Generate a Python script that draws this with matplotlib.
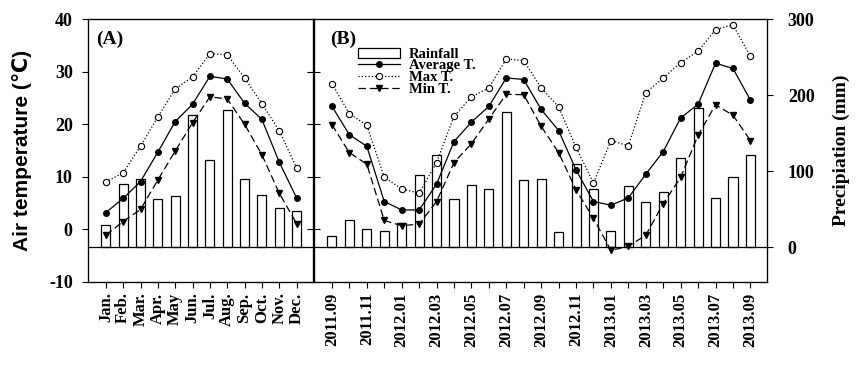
import matplotlib
matplotlib.use('Agg')
import matplotlib.pyplot as plt
import numpy as np

plt.rcParams['axes.unicode_minus'] = False

# ---- data ----
months_a = ['Jan.', 'Feb.', 'Mar.', 'Apr.', 'May', 'Jun.', 'Jul.', 'Aug.', 'Sep.', 'Oct.', 'Nov.', 'Dec.']
rain_a = [29, 83, 90, 64, 68, 174, 115, 181, 90, 69, 52, 48]
tavg_a = [3.2, 5.9, 9.1, 14.7, 20.5, 23.8, 29.1, 28.6, 24.0, 20.9, 12.8, 6.0]
tmax_a = [9.0, 10.8, 15.8, 21.4, 26.7, 29.0, 33.4, 33.2, 28.8, 23.9, 18.8, 11.7]
tmin_a = [-1.1, 1.5, 3.8, 9.4, 14.9, 20.3, 25.2, 24.8, 20.0, 14.2, 6.9, 1.1]

months_b = ['2011.09', '2011.10', '2011.11', '2011.12', '2012.01', '2012.02', '2012.03',
            '2012.04', '2012.05', '2012.06', '2012.07', '2012.08', '2012.09', '2012.10',
            '2012.11', '2012.12', '2013.01', '2013.02', '2013.03', '2013.04', '2013.05',
            '2013.06', '2013.07', '2013.08', '2013.09']
rain_b = [14.5, 35.5, 23.7, 21.5, 32, 94.7, 122, 63, 81.6, 76.3, 178, 89, 90, 20, 110,
          77, 22, 81, 60, 73, 117, 183, 65, 93, 121]
tavg_b = [23.4, 18.0, 15.8, 5.3, 3.7, 3.7, 8.6, 16.7, 20.4, 23.4, 28.8, 28.5, 22.8, 18.8,
          11.3, 5.3, 4.6, 6.0, 10.5, 14.8, 21.2, 23.8, 31.6, 30.6, 24.6]
tmax_b = [27.7, 22.0, 19.8, 9.9, 7.7, 6.9, 12.7, 21.5, 25.2, 26.9, 32.4, 32.1, 26.9, 23.3,
          15.6, 8.8, 16.9, 15.9, 26.0, 28.8, 31.7, 33.9, 38.0, 38.9, 32.9]
tmin_b = [19.9, 14.6, 12.4, 1.7, 0.7, 1.0, 5.3, 12.7, 16.3, 21.0, 25.7, 25.6, 19.6, 14.6,
          7.5, 2.1, -4.0, -3.2, -1.1, 4.9, 9.9, 17.9, 23.7, 21.7, 16.9]

SERIF = 'Liberation Serif'
TICK_FS = 13


def draw_panel(ax, labels, rain, tavg, tmax, tmin, tag):
    '''
    bars on a twin (precipitation) axis, temperatures on the main axis
    '''
    x = np.arange(len(labels))
    axr = ax.twinx()
    axr.bar(x, rain, width=0.52, color='white', edgecolor='black', linewidth=0.9,
            label='Rainfall', zorder=1)
    axr.axhline(0, color='black', linewidth=0.9)
    axr.set_ylim(-45.5, 300)

    ax.set_zorder(axr.get_zorder() + 1)
    ax.patch.set_visible(False)
    l1, = ax.plot(x, tavg, color='black', linewidth=0.9, marker='o', markersize=4,
                  label='Average T.')
    l2, = ax.plot(x, tmax, color='black', linewidth=0.9, linestyle=':', marker='o',
                  markersize=4.5, markerfacecolor='white', markeredgewidth=0.8, label='Max T.')
    l3, = ax.plot(x, tmin, color='black', linewidth=0.9, linestyle=(0, (6, 3)), marker='v',
                  markersize=5, label='Min T.')
    ax.set_ylim(-10, 40)
    ax.set_xlim(-1.03, len(labels) - 0.05)
    ax.set_xticks(x)
    ax.text(0.035, 0.955, tag, transform=ax.transAxes, fontsize=14, fontweight='bold',
            family=SERIF, va='top', ha='left')
    for s in ax.spines.values():
        s.set_linewidth(0.9)
    return axr, [l1, l2, l3]


fig = plt.figure(figsize=(8.56, 3.65), dpi=100)
ax_a = fig.add_axes([0.1028, 0.2274, 0.2629, 0.7205])
ax_b = fig.add_axes([0.3668, 0.2274, 0.5292, 0.7205])

axr_a, _ = draw_panel(ax_a, months_a, rain_a, tavg_a, tmax_a, tmin_a, '(A)')
axr_b, lines = draw_panel(ax_b, months_b, rain_b, tavg_b, tmax_b, tmin_b, '(B)')

# panel A axes
ax_a.set_yticks([-10, 0, 10, 20, 30, 40])
ax_a.set_xticklabels(months_a, rotation=90, fontsize=12, fontweight='bold', family=SERIF)
ax_a.tick_params(axis='y', labelsize=TICK_FS, direction='out', length=4, pad=7)
for t in ax_a.get_yticklabels():
    t.set_fontweight('bold')
    t.set_family(SERIF)
ax_a.set_ylabel('Air temperature (\u2103)', fontsize=15, fontweight='bold',
                family=['Liberation Sans', 'DejaVu Sans'], labelpad=12)
axr_a.set_yticks([])
ax_a.tick_params(axis='x', direction='out', length=4)

# inward temperature ticks on the shared border
ax_a.yaxis.set_ticks_position('both')
for tk in ax_a.yaxis.get_major_ticks():
    tk.tick2line.set_marker(matplotlib.lines.TICKLEFT)
    tk.tick2line.set_markersize(4)

# panel B axes
ax_b.set_yticks([0, 10, 20, 30])
ax_b.tick_params(axis='y', direction='in', length=4, labelleft=False)
ax_b.set_xticklabels([m if i % 2 == 0 else '' for i, m in enumerate(months_b)],
                     rotation=90, fontsize=12, fontweight='bold', family=SERIF)
ax_b.tick_params(axis='x', direction='out', length=4)
axr_b.set_yticks([0, 100, 200, 300])
axr_b.tick_params(axis='y', direction='out', length=4, labelsize=TICK_FS, pad=11)
for t in axr_b.get_yticklabels():
    t.set_fontweight('bold')
    t.set_family(SERIF)
axr_b.set_ylabel('Precipiation (mm)', fontsize=14, fontweight='bold', family=SERIF,
                 labelpad=13)

bars = axr_b.containers[0]
ax_b.legend([bars] + lines, ['Rainfall', 'Average T.', 'Max T.', 'Min T.'],
            loc='upper left', bbox_to_anchor=(0.075, 0.93), frameon=False,
            prop={'family': SERIF, 'weight': 'bold', 'size': 10.5},
            handlelength=2.85, labelspacing=-0.11, handletextpad=0.62, borderpad=0.2)

fig.savefig('out.png', dpi=100)
